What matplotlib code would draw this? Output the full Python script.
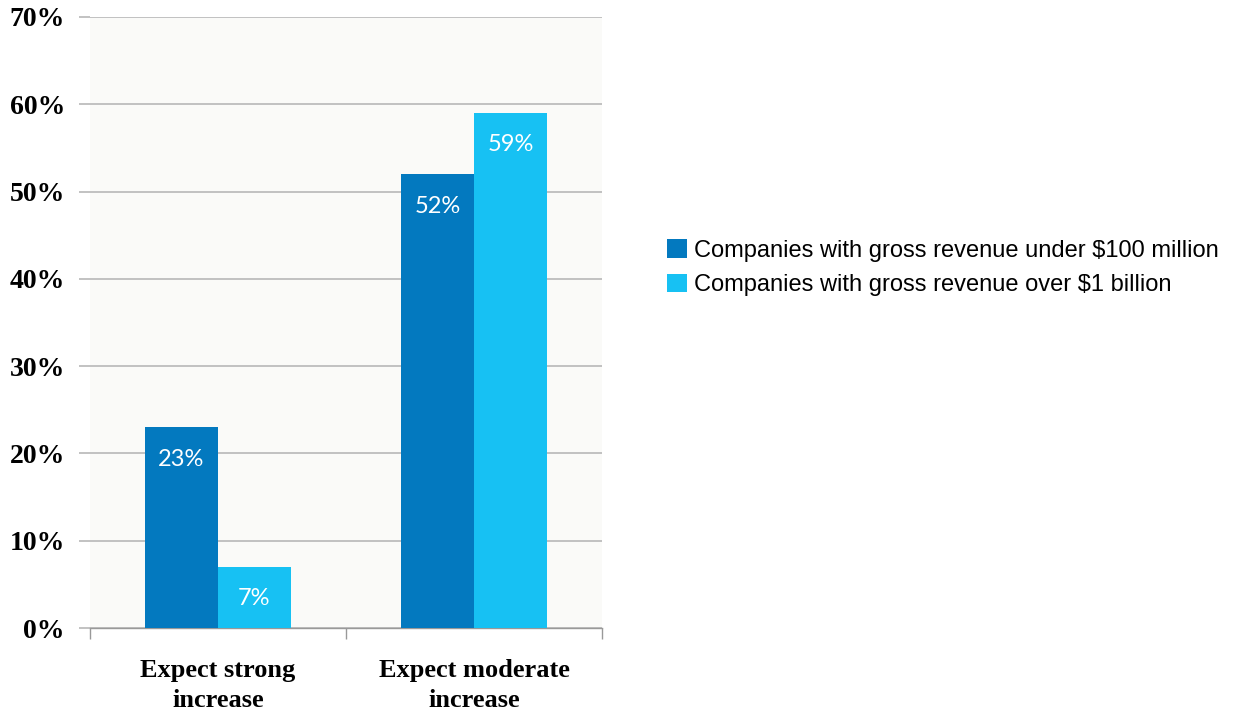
import matplotlib.pyplot as plt
import numpy as np

categories = ["Expect strong\nincrease", "Expect moderate\nincrease"]
series_names = [
    "Companies with gross revenue under $100 million",
    "Companies with gross revenue over $1 billion",
]
under_100m = [23, 52]
over_1b = [7, 59]
yticks = [0, 10, 20, 30, 40, 50, 60, 70]

COLORS = ["#0379BF", "#17C1F3"]
GRID = "#BDBDBD"

fig = plt.figure(figsize=(12.33, 7.13), dpi=100)
ax = fig.add_axes([90 / 1233, 1 - 628 / 713, 512 / 1233, 611 / 713])
ax.set_facecolor("#FAFAF8")

x = np.arange(len(categories))
width = 0.285
bars = []
for i, (vals, name) in enumerate(zip([under_100m, over_1b], series_names)):
    offs = (i - 0.5) * width
    b = ax.bar(x + offs, vals, width, color=COLORS[i], label=name, zorder=3)
    bars.append(b)
    for xi, v in zip(x, vals):
        ax.annotate(f"{v}%", (xi + offs, v), xytext=(0, -23), textcoords="offset points",
                    ha="center", va="center", color="white", fontsize=17,
                    family="Lato", zorder=4)

ax.set_xlim(-0.5, 1.5)
ax.set_ylim(0, 70)
ax.set_yticks(yticks)
ax.set_yticklabels([f"{t}%" for t in yticks], family="Liberation Serif",
                   fontweight="bold", fontsize=20)
ax.yaxis.grid(True, color=GRID, linewidth=1.3, zorder=0)
ax.tick_params(axis="y", length=8, color=GRID, width=1.3, pad=10)

ax.set_xticks([-0.5, 0.5, 1.5])
ax.set_xticklabels([])
ax.tick_params(axis="x", length=8, color="#999999", width=1.0)
ax.set_xticks(x, minor=True)
ax.set_xticklabels(categories, minor=True, family="Liberation Serif",
                   fontweight="bold", fontsize=19, linespacing=1.4)
ax.tick_params(axis="x", which="minor", length=0, pad=22)

for s in ["top", "right", "left"]:
    ax.spines[s].set_visible(False)
ax.spines["bottom"].set_color("#999999")
ax.spines["bottom"].set_linewidth(1.0)

leg = fig.legend(handles=bars, labels=series_names, loc="upper left",
                 bbox_to_anchor=(646 / 1233, 1 - 218 / 713), frameon=False,
                 prop={"family": "Liberation Sans", "size": 17},
                 handlelength=0.85, handleheight=0.85, handletextpad=0.3,
                 labelspacing=0.5)

fig.savefig("out.png", dpi=100, facecolor="white")
